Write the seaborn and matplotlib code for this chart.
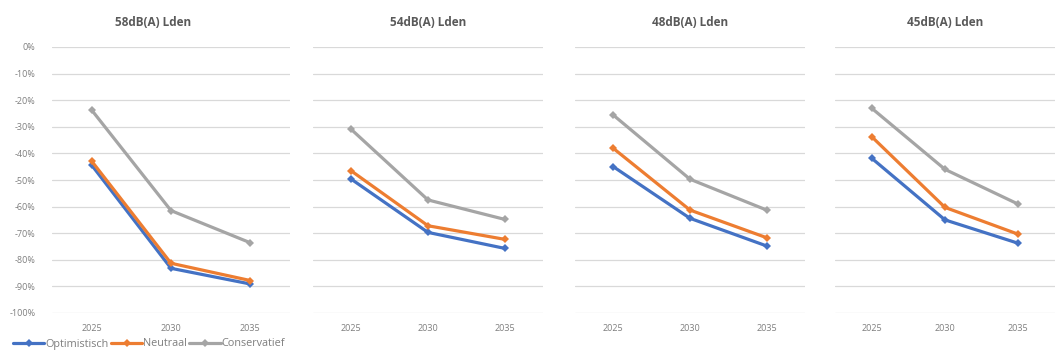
import matplotlib
matplotlib.use("Agg")
import matplotlib.pyplot as plt
from matplotlib.lines import Line2D
import seaborn as sns
import pandas as pd

# Years on the x axis
years = ["2025", "2030", "2035"]

# Panel titles (noise contours)
contours = ["58dB(A) Lden", "54dB(A) Lden", "48dB(A) Lden", "45dB(A) Lden"]

# Scenarios
scenarios = ["Optimistisch", "Neutraal", "Conservatief"]

# Relative change per contour, per scenario (fractions)
optimistisch = [
    [-0.444, -0.832, -0.891],
    [-0.497, -0.697, -0.757],
    [-0.450, -0.644, -0.748],
    [-0.418, -0.650, -0.738],
]
neutraal = [
    [-0.429, -0.813, -0.878],
    [-0.466, -0.672, -0.723],
    [-0.381, -0.613, -0.717],
    [-0.337, -0.603, -0.704],
]
conservatief = [
    [-0.237, -0.615, -0.736],
    [-0.310, -0.575, -0.648],
    [-0.256, -0.497, -0.613],
    [-0.230, -0.460, -0.591],
]

colors = {"Optimistisch": "#4472C4", "Neutraal": "#ED7D31", "Conservatief": "#A5A5A5"}

rows = []
for ci, contour in enumerate(contours):
    for name, series in zip(scenarios, [optimistisch, neutraal, conservatief]):
        for xi, year in enumerate(years):
            rows.append({"contour": contour, "scenario": name, "pos": xi,
                         "year": year, "value": series[ci][xi]})
df = pd.DataFrame(rows)

sns.set_theme(style="white")
plt.rcParams["font.family"] = ["Open Sans", "DejaVu Sans"]

fig = plt.figure(figsize=(10.59, 3.54), dpi=100)
W, H = 1059, 354
panels = [(52, 290), (313, 543), (575, 805), (835, 1055)]
top_px, bottom_px = 47, 313
title_x = [153, 428, 690, 945]

for i, (contour, (l, r)) in enumerate(zip(contours, panels)):
    ax = fig.add_axes([l / W, 1 - bottom_px / H, (r - l) / W, (bottom_px - top_px) / H])
    sub = df[df["contour"] == contour]
    sns.lineplot(data=sub, x="pos", y="value", hue="scenario", hue_order=scenarios,
                 palette=colors, marker="D", markersize=4.5, markeredgewidth=0,
                 linewidth=2.3, ax=ax, legend=False, sort=False)
    ax.set_xlim(-0.5, 2.5)
    ax.set_ylim(-1.0, 0.0)
    ax.set_yticks([-k / 10 for k in range(11)])
    ax.yaxis.grid(True, color="#D9D9D9", linewidth=0.9)
    ax.xaxis.grid(False)
    for s in ax.spines.values():
        s.set_visible(False)
    ax.set_xticks(range(len(years)))
    ax.set_xticklabels(years, fontsize=6.5, color="#7F7F7F")
    ax.tick_params(axis="x", length=0, pad=8)
    if i == 0:
        ax.set_yticklabels([f"{-k * 10}%" if k else "0%" for k in range(11)],
                           fontsize=6.5, color="#7F7F7F")
        ax.tick_params(axis="y", length=0, pad=12)
    else:
        ax.set_yticklabels([])
        ax.tick_params(axis="y", length=0)
    ax.set_xlabel("")
    ax.set_ylabel("")
    fig.text(title_x[i] / W, 1 - 22 / H, contour, ha="center", va="center",
             fontsize=8.5, fontweight="bold", color="#595959")

handles = [Line2D([0], [0], color=colors[s], linewidth=2.3, marker="D",
                  markersize=4.5, markeredgewidth=0) for s in scenarios]
fig.legend(handles, scenarios, loc="center left", bbox_to_anchor=(13 / W, 1 - 344 / H),
           ncol=3, frameon=False, fontsize=7.8, labelcolor="#7F7F7F",
           handlelength=2.9, handletextpad=0.05, columnspacing=0.25, borderaxespad=0,
           borderpad=0)

fig.savefig("out.png", dpi=100, facecolor="white")
